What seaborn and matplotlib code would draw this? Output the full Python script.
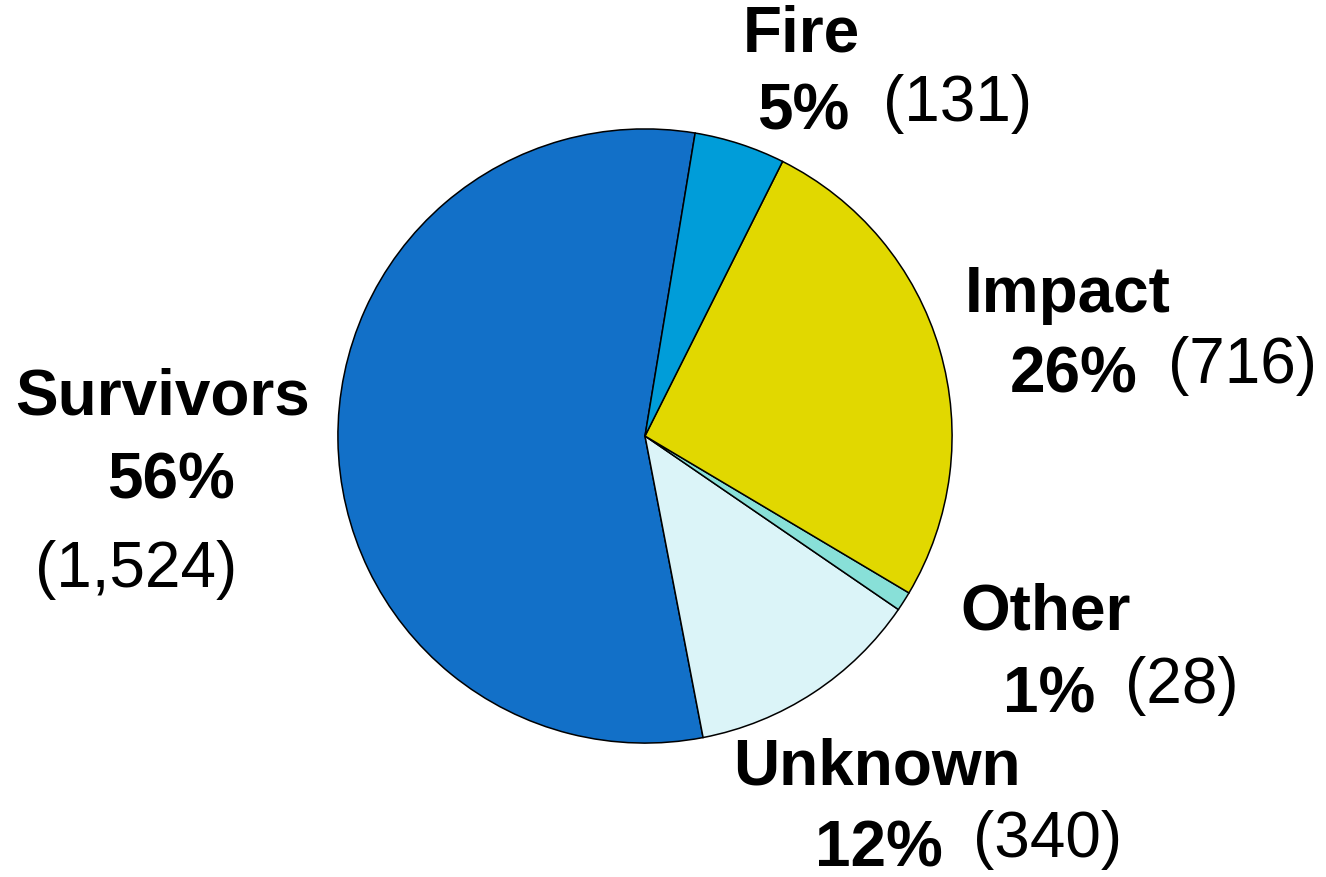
import matplotlib
matplotlib.use("Agg")
import matplotlib.pyplot as plt
import seaborn as sns

sns.set_theme(style="white")
plt.rcParams['font.family'] = ['Liberation Sans', 'DejaVu Sans']
plt.rcParams['text.color'] = 'black'

# data
labels = ['Survivors', 'Unknown', 'Other', 'Impact', 'Fire']
counts = [1524, 340, 28, 716, 131]
count_labels = ['(1,524)', '(340)', '(28)', '(716)', '(131)']
colors = ['#1270C8', '#DBF4F8', '#88E0D8', '#E1D800', '#009DD9']

W, H = 1326, 878
fig = plt.figure(figsize=(W / 100, H / 100), dpi=100)
cx, cy, r = 645, 437, 308
ax = fig.add_axes([(cx - r) / W, (H - cy - r) / H, 2 * r / W, 2 * r / H])
ax.pie(counts, colors=colors, startangle=80.6, counterclock=True,
       wedgeprops=dict(edgecolor='black', linewidth=1.1))
ax.set_xlim(-1.003, 1.003)
ax.set_ylim(-1.003, 1.003)
ax.axis('off')

total = sum(counts)
pcts = [f"{round(c / total * 100):.0f}%" for c in counts]

# label placement in pixel coords (left x, center y)
name_pos = {'Survivors': (15, 398), 'Unknown': (733, 768), 'Other': (960, 613),
            'Impact': (965, 295), 'Fire': (743, 34)}
pct_pos = {'Survivors': (107, 482), 'Unknown': (815, 850), 'Other': (1003, 696),
           'Impact': (1010, 376), 'Fire': (757, 113)}
cnt_pos = {'Survivors': (35, 570), 'Unknown': (973, 840), 'Other': (1125, 686),
           'Impact': (1168, 366), 'Fire': (883, 104)}

fs = 46
for lab, pct, cl in zip(labels, pcts, count_labels):
    x, y = name_pos[lab]
    fig.text(x / W, 1 - y / H, lab, fontsize=fs, fontweight='bold', color='black',
             ha='left', va='center')
    x, y = pct_pos[lab]
    fig.text(x / W, 1 - y / H, pct, fontsize=fs, fontweight='bold', color='black',
             ha='left', va='center')
    x, y = cnt_pos[lab]
    fig.text(x / W, 1 - y / H, cl, fontsize=fs, color='black', ha='left', va='center')

fig.savefig('out.png', dpi=100)
